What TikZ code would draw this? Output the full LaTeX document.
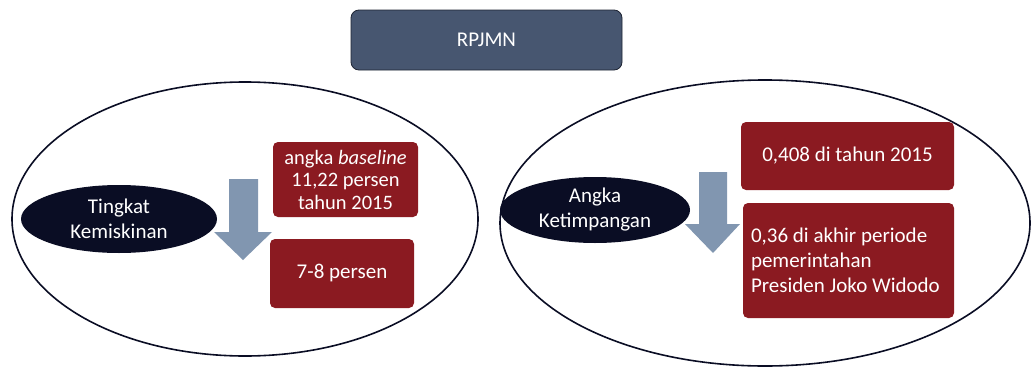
\documentclass[tikz,border=0pt]{standalone}
\usepackage{fontspec}
\setmainfont{Carlito}
\usetikzlibrary{shapes.geometric}
\definecolor{topfill}{HTML}{475670}
\definecolor{topline}{HTML}{1E2433}
\definecolor{boxred}{HTML}{8B1A21}
\definecolor{navy}{HTML}{0A0D24}
\definecolor{arrowblue}{HTML}{8196B0}
\tikzset{
  big/.style={ellipse, draw=navy, line width=1.6pt, fill=white, inner sep=0pt},
  topic/.style={ellipse, fill=navy, text=white, inner sep=0pt, align=center,
    font=\fontsize{21}{25}\selectfont},
  redbox/.style={rectangle, rounded corners=5pt, fill=boxred, text=white, inner sep=0pt,
    font=\fontsize{21}{25}\selectfont},
  headbox/.style={rectangle, rounded corners=8pt, fill=topfill, draw=topline, line width=0.8pt,
    text=white, font=\fontsize{21}{25}\selectfont},
  blockarrow/.style={fill=arrowblue},
}
\begin{document}
\begin{tikzpicture}[x=1pt,y=-1pt]
\useasboundingbox (0,0) rectangle (1036,367);
% top box
\node[headbox, minimum width=271pt, minimum height=60pt] (rpjmn) at (486.5,40) {RPJMN};
% big ellipses
\node[big, minimum width=466pt, minimum height=274pt] (left) at (245,219) {};
\node[big, minimum width=530pt, minimum height=286pt] (right) at (765,223) {};
% left group
\node[topic, minimum width=196pt, minimum height=68pt] (tk) at (119,219) {Tingkat\\Kemiskinan};
\path[blockarrow] (229,179) -- (258,179) -- (258,232) -- (272,232) -- (243,260) -- (214,232) -- (229,232) -- cycle;
\node[redbox, minimum width=145pt, minimum height=75pt, align=center,
  font=\fontsize{20.5}{22.5}\selectfont] (base) at (345.5,179.5)
  {angka \textit{baseline}\\11,22 persen\\tahun 2015};
\node[redbox, minimum width=144pt, minimum height=69pt] (target) at (342,273.5) {7-8 persen};
% right group
\node[topic, minimum width=190pt, minimum height=66pt] (ak) at (595,210) {Angka\\Ketimpangan};
\path[blockarrow] (699,172) -- (727,172) -- (727,224) -- (740,224) -- (713,253) -- (685,224) -- (699,224) -- cycle;
\node[redbox, minimum width=213pt, minimum height=68pt] (g2015) at (847.5,156) {0,408 di tahun 2015};
\node[redbox, minimum width=211pt, minimum height=115pt, align=flush left, text width=195pt] (gend) at (848.5,260.5)
  {0,36 di akhir periode\\pemerintahan\\Presiden Joko Widodo};
\end{tikzpicture}
\end{document}
